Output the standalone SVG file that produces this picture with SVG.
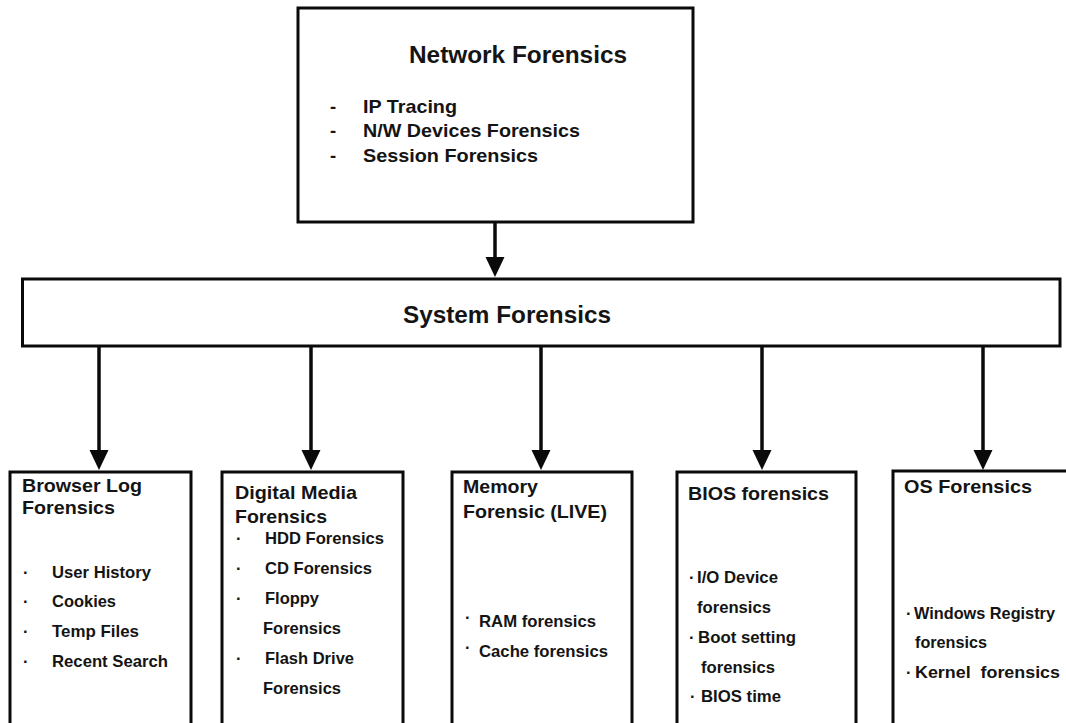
<svg xmlns="http://www.w3.org/2000/svg" width="1066" height="723" viewBox="0 0 1066 723">
  <style>
    .box { fill: #ffffff; stroke: #0a0a0a; stroke-width: 3; }
    .link { fill: none; stroke: #0a0a0a; stroke-width: 3.5; }
    text { font-family: "Liberation Sans", Arial, sans-serif; font-weight: bold; fill: #141414; }
    .h1 { font-size: 23.5px; }
    .h2 { font-size: 18.5px; }
    .li { font-size: 18.5px; }
    .it { font-size: 16.5px; }
  </style>
  <defs>
    <marker id="arrow" viewBox="0 0 20 20" refX="10" refY="10" markerWidth="20" markerHeight="20" markerUnits="userSpaceOnUse" orient="auto">
      <path d="M0,0.5 L20,10 L0,19.5 z" fill="#0a0a0a"/>
    </marker>
  </defs>
  <rect width="1066" height="723" fill="#ffffff"/>

  <!-- connectors -->
  <g id="connectors">
    <path class="link" d="M495,223 V267" marker-end="url(#arrow)"/>
    <path class="link" d="M99,346 V460" marker-end="url(#arrow)"/>
    <path class="link" d="M311,346 V460" marker-end="url(#arrow)"/>
    <path class="link" d="M541,346 V460" marker-end="url(#arrow)"/>
    <path class="link" d="M762,346 V460" marker-end="url(#arrow)"/>
    <path class="link" d="M983,346 V460" marker-end="url(#arrow)"/>
  </g>

  <!-- top node -->
  <g id="network-forensics">
    <rect class="box" x="298" y="8" width="395" height="214"/>
    <text class="h1" x="409" y="63" textLength="218" lengthAdjust="spacingAndGlyphs">Network Forensics</text>
    <text class="li" x="330" y="113">-</text>
    <text class="li" x="363" y="113" textLength="94" lengthAdjust="spacingAndGlyphs">IP Tracing</text>
    <text class="li" x="330" y="137">-</text>
    <text class="li" x="363" y="137" textLength="217" lengthAdjust="spacingAndGlyphs">N/W Devices Forensics</text>
    <text class="li" x="330" y="162">-</text>
    <text class="li" x="363" y="162" textLength="175" lengthAdjust="spacingAndGlyphs">Session Forensics</text>
  </g>

  <!-- middle node -->
  <g id="system-forensics">
    <rect class="box" x="22.5" y="279" width="1037.5" height="67"/>
    <text class="h1" x="403" y="323" textLength="208" lengthAdjust="spacingAndGlyphs">System Forensics</text>
  </g>

  <!-- leaf nodes -->
  <g id="browser-log-forensics">
    <rect class="box" x="10" y="472" width="181" height="270"/>
    <text class="h2" x="22" y="492" textLength="120" lengthAdjust="spacingAndGlyphs">Browser Log</text>
    <text class="h2" x="22" y="514" textLength="93" lengthAdjust="spacingAndGlyphs">Forensics</text>
    <text class="it" x="23" y="578">·</text>
    <text class="it" x="52" y="578" textLength="99" lengthAdjust="spacingAndGlyphs">User History</text>
    <text class="it" x="23" y="607">·</text>
    <text class="it" x="52" y="607" textLength="64" lengthAdjust="spacingAndGlyphs">Cookies</text>
    <text class="it" x="23" y="637">·</text>
    <text class="it" x="52" y="637" textLength="87" lengthAdjust="spacingAndGlyphs">Temp Files</text>
    <text class="it" x="23" y="667">·</text>
    <text class="it" x="52" y="667" textLength="116" lengthAdjust="spacingAndGlyphs">Recent Search</text>
  </g>

  <g id="digital-media-forensics">
    <rect class="box" x="222" y="472" width="181" height="270"/>
    <text class="h2" x="235" y="499" textLength="122" lengthAdjust="spacingAndGlyphs">Digital Media</text>
    <text class="h2" x="235" y="523" textLength="92" lengthAdjust="spacingAndGlyphs">Forensics</text>
    <text class="it" x="236" y="544">·</text>
    <text class="it" x="265" y="544" textLength="119" lengthAdjust="spacingAndGlyphs">HDD Forensics</text>
    <text class="it" x="236" y="574">·</text>
    <text class="it" x="265" y="574" textLength="107" lengthAdjust="spacingAndGlyphs">CD Forensics</text>
    <text class="it" x="236" y="604">·</text>
    <text class="it" x="265" y="604" textLength="54" lengthAdjust="spacingAndGlyphs">Floppy</text>
    <text class="it" x="263" y="634" textLength="78" lengthAdjust="spacingAndGlyphs">Forensics</text>
    <text class="it" x="236" y="664">·</text>
    <text class="it" x="265" y="664" textLength="89" lengthAdjust="spacingAndGlyphs">Flash Drive</text>
    <text class="it" x="263" y="694" textLength="78" lengthAdjust="spacingAndGlyphs">Forensics</text>
  </g>

  <g id="memory-forensic-live">
    <rect class="box" x="452" y="472" width="180" height="270"/>
    <text class="h2" x="463" y="493" textLength="75" lengthAdjust="spacingAndGlyphs">Memory</text>
    <text class="h2" x="463" y="518" textLength="144" lengthAdjust="spacingAndGlyphs">Forensic (LIVE)</text>
    <text class="it" x="465" y="623">·</text>
    <text class="it" x="479" y="627" textLength="117" lengthAdjust="spacingAndGlyphs">RAM forensics</text>
    <text class="it" x="465" y="653">·</text>
    <text class="it" x="479" y="657" textLength="129" lengthAdjust="spacingAndGlyphs">Cache forensics</text>
  </g>

  <g id="bios-forensics">
    <rect class="box" x="677" y="472" width="179" height="270"/>
    <text class="h2" x="688" y="500" textLength="141" lengthAdjust="spacingAndGlyphs">BIOS forensics</text>
    <text class="it" x="689" y="583">·</text>
    <text class="it" x="697" y="583" textLength="81" lengthAdjust="spacingAndGlyphs">I/O Device</text>
    <text class="it" x="697" y="613" textLength="74" lengthAdjust="spacingAndGlyphs">forensics</text>
    <text class="it" x="689" y="643">·</text>
    <text class="it" x="698" y="643" textLength="98" lengthAdjust="spacingAndGlyphs">Boot setting</text>
    <text class="it" x="701" y="673" textLength="74" lengthAdjust="spacingAndGlyphs">forensics</text>
    <text class="it" x="690" y="702">·</text>
    <text class="it" x="701" y="702" textLength="80" lengthAdjust="spacingAndGlyphs">BIOS time</text>
  </g>

  <g id="os-forensics">
    <rect class="box" x="893" y="471" width="200" height="270"/>
    <text class="h2" x="904" y="493" textLength="128" lengthAdjust="spacingAndGlyphs">OS Forensics</text>
    <text class="it" x="906" y="619">·</text>
    <text class="it" x="914" y="619" textLength="141" lengthAdjust="spacingAndGlyphs">Windows Registry</text>
    <text class="it" x="915" y="648" textLength="72" lengthAdjust="spacingAndGlyphs">forensics</text>
    <text class="it" x="906" y="678">·</text>
    <text class="it" x="915" y="678" xml:space="preserve" textLength="145" lengthAdjust="spacingAndGlyphs">Kernel  forensics</text>
  </g>
</svg>
